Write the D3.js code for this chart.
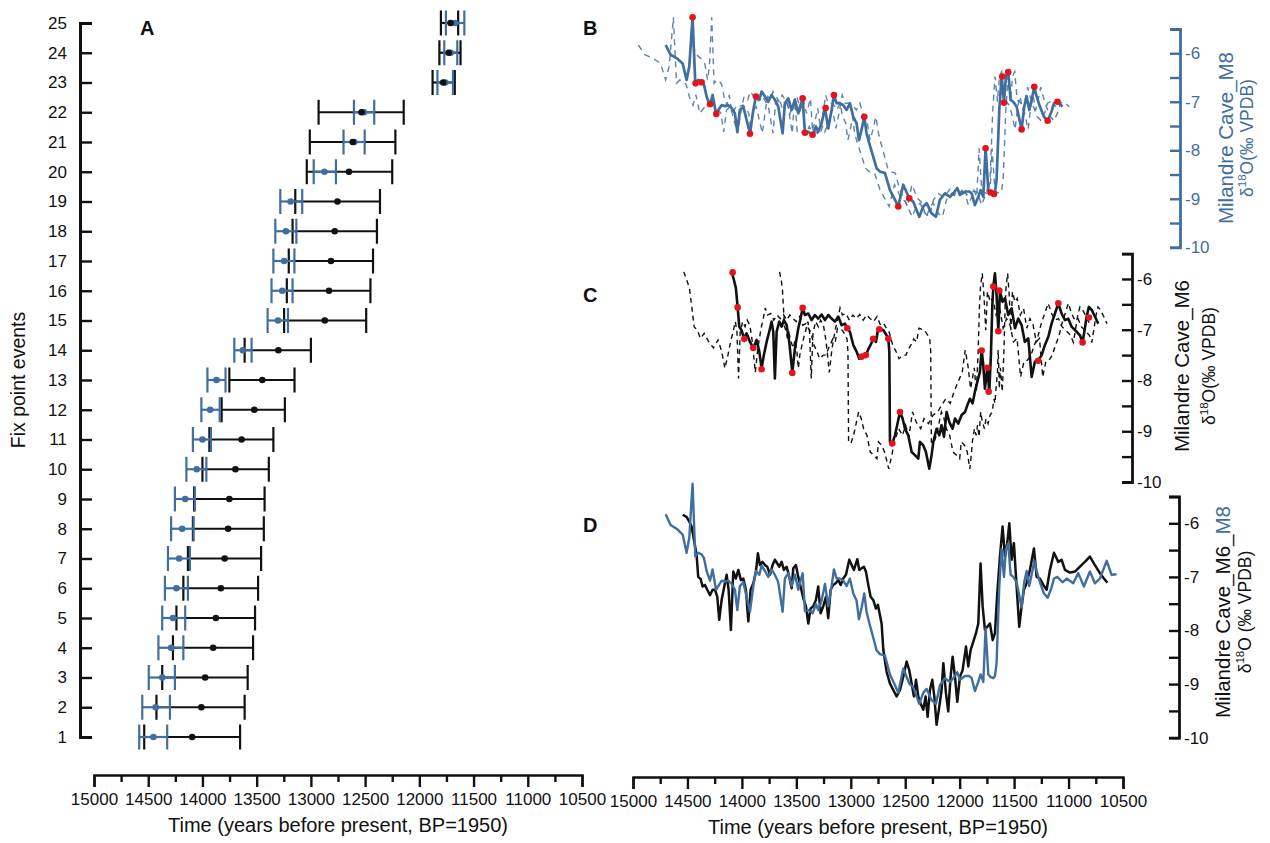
<!DOCTYPE html>
<html>
<head>
<meta charset="utf-8">
<script src="https://cdn.jsdelivr.net/npm/d3@7"></script>
<style>
  body { margin: 0; background: #fff; }
  svg { display: block; font-family: "Liberation Sans", Arial, sans-serif; }
</style>
</head>
<body>
<svg id="chart" width="1270" height="843"></svg>
<script>
/* ---------- data ---------- */
const EVENTS = [1,2,3,4,5,6,7,8,9,10,11,12,13,14,15,16,17,18,19,20,21,22,23,24,25];

// fix point ages (years BP), M6 = black, M8 = blue
const M6_FIX_AGE   = [14095,14010,13975,13901,13876,13830,13795,13763,13752,13696,13639,13522,13448,13300,12872,12833,12815,12780,12755,12649,12614,12533,11780,11730,11712];
const M6_FIX_OLD   = [14537,14424,14371,14272,14240,14176,14134,14088,14077,14000,13936,13823,13752,13611,13247,13222,13204,13169,13144,13038,13010,12929,11878,11815,11801];
const M6_FIX_YOUNG = [13653,13611,13583,13533,13515,13487,13459,13434,13427,13388,13346,13240,13151,13000,12490,12451,12427,12391,12363,12250,12221,12144,11673,11620,11642];
const M8_FIX_AGE   = [14452,14431,14371,14289,14272,14240,14215,14187,14159,14053,14000,13929,13870,13628,13303,13264,13247,13230,13187,12875,12600,12510,11760,11710,11670];
const M8_FIX_OLD   = [14583,14555,14495,14406,14371,14346,14318,14289,14254,14148,14088,14010,13954,13706,13399,13363,13346,13328,13282,12974,12699,12603,11833,11770,11755];
const M8_FIX_YOUNG = [14325,14300,14254,14176,14159,14134,14116,14081,14070,13964,13922,13841,13787,13547,13211,13169,13152,13134,13080,12769,12504,12416,11690,11650,11585];

// Milandre M8 d18O  [year BP, permil]
const M8 = [
  [14700,-5.83],[14655,-6.03],[14600,-6.10],[14544,-6.21],[14508,-6.55],[14483,-6.27],[14453,-5.26],[14428,-6.62],
  [14401,-6.55],[14370,-6.58],[14348,-6.65],[14324,-6.89],[14293,-7.07],[14269,-6.86],[14238,-7.24],[14217,-7.17],
  [14186,-7.07],[14156,-7.09],[14125,-7.07],[14094,-7.13],[14064,-7.24],[14042,-7.62],[14018,-7.17],[13987,-7.10],
  [13957,-7.37],[13926,-7.65],[13895,-7.17],[13871,-6.89],[13840,-6.96],[13819,-6.79],[13788,-6.89],[13758,-7.00],
  [13727,-6.86],[13697,-6.96],[13666,-7.10],[13626,-7.65],[13605,-7.03],[13574,-6.93],[13543,-7.17],[13513,-6.96],
  [13482,-7.24],[13461,-7.07],[13442,-6.93],[13421,-7.64],[13390,-7.62],[13351,-7.68],[13320,-7.51],[13299,-7.62],
  [13268,-7.44],[13237,-7.13],[13207,-7.55],[13176,-7.17],[13155,-6.86],[13130,-7.03],[13100,-7.03],[13069,-7.07],
  [13038,-7.17],[13008,-7.03],[12977,-7.31],[12947,-7.44],[12925,-7.79],[12901,-7.58],[12876,-7.31],[12855,-7.65],
  [12830,-7.86],[12794,-8.13],[12763,-8.37],[12732,-8.44],[12686,-8.47],[12640,-8.82],[12594,-9.02],[12564,-9.16],
  [12518,-8.71],[12463,-8.99],[12426,-9.06],[12371,-9.37],[12334,-9.16],[12303,-9.09],[12258,-9.30],[12218,-9.37],
  [12181,-9.02],[12135,-8.89],[12089,-8.96],[12059,-8.89],[12022,-8.78],[11997,-8.92],[11951,-8.85],[11912,-8.85],
  [11890,-8.89],[11860,-9.13],[11829,-8.96],[11808,-8.82],[11783,-8.96],[11762,-7.96],[11737,-8.82],[11716,-8.87],
  [11691,-8.89],[11676,-8.85],[11661,-8.61],[11636,-7.17],[11615,-6.48],[11593,-7.00],[11575,-6.48],[11554,-6.38],
  [11532,-6.96],[11508,-7.00],[11477,-7.10],[11431,-7.57],[11407,-7.10],[11385,-6.89],[11361,-7.17],[11339,-6.96],
  [11315,-6.70],[11293,-6.89],[11263,-7.10],[11226,-7.31],[11192,-7.39],[11156,-7.20],[11134,-7.03],[11104,-7.00],
  [11055,-7.10]
];
// later part of M8 only shown in panel D
const M8_TAIL = [
  [11018,-7.03],[10957,-7.12],[10911,-6.93],[10859,-7.18],[10804,-6.90],[10758,-7.12],[10712,-7.03],[10650,-6.70],
  [10605,-6.96],[10559,-6.95]
];
const M8_TIE = [
  [14453,-5.26],[14425,-6.62],[14370,-6.60],[14293,-7.05],[14235,-7.25],[13926,-7.66],[13871,-6.89],[13442,-6.93],
  [13421,-7.64],[13351,-7.68],[13231,-7.13],[13155,-6.86],[12876,-7.31],[12564,-9.16],[12463,-8.99],[11762,-7.96],
  [11716,-8.87],[11685,-8.90],[11609,-6.48],[11554,-6.39],[11593,-7.02],[11431,-7.57],[11315,-6.69],[11192,-7.39],
  [11101,-7.00]
];
// age uncertainty of the M8 chronology (years), dashed lines
const M8_AGE_ERR = [[14700,250],[14450,175],[14000,120],[13300,60],[12850,110],[12300,60],[11050,60]];

// Milandre M6 d18O on its own chronology
const M6 = [
  [14094,-5.86],[14073,-6.02],[14055,-6.18],[14039,-6.56],[14024,-6.94],[14003,-7.01],[13981,-7.17],[13957,-7.07],
  [13926,-7.24],[13895,-7.36],[13865,-7.20],[13840,-7.43],[13819,-7.76],[13798,-7.50],[13773,-7.24],[13749,-7.04],
  [13727,-6.84],[13712,-7.04],[13697,-7.96],[13681,-7.04],[13657,-6.84],[13635,-6.94],[13614,-6.81],[13589,-6.91],
  [13565,-7.24],[13537,-7.84],[13513,-7.37],[13482,-6.97],[13461,-6.78],[13442,-6.57],[13421,-6.71],[13390,-6.68],
  [13360,-6.81],[13329,-6.71],[13299,-6.78],[13268,-6.70],[13237,-6.81],[13207,-6.71],[13176,-6.78],[13146,-6.84],
  [13115,-6.74],[13084,-6.91],[13054,-6.88],[13032,-6.97],[13008,-7.04],[12977,-7.30],[12947,-7.43],[12922,-7.57],
  [12901,-7.53],[12885,-7.50],[12861,-7.50],[12836,-7.37],[12818,-7.30],[12794,-7.18],[12769,-7.24],[12748,-6.97],
  [12701,-7.01],[12671,-7.11],[12655,-7.18],[12646,-7.43],[12640,-9.21],[12619,-9.24],[12594,-9.08],[12564,-8.78],
  [12548,-8.62],[12524,-8.75],[12502,-8.95],[12472,-9.08],[12441,-9.41],[12411,-9.47],[12380,-9.54],[12365,-9.21],
  [12334,-9.28],[12310,-9.41],[12279,-9.74],[12258,-9.47],[12242,-9.21],[12212,-8.95],[12187,-9.08],[12166,-8.88],
  [12144,-9.11],[12120,-8.62],[12095,-8.82],[12065,-8.95],[12043,-8.75],[12013,-8.85],[11982,-8.68],[11951,-8.62],
  [11930,-8.49],[11906,-8.36],[11881,-8.45],[11860,-8.22],[11838,-8.03],[11814,-7.83],[11798,-7.40],[11783,-7.70],
  [11768,-8.16],[11746,-7.75],[11728,-8.22],[11713,-7.50],[11700,-6.51],[11691,-6.15],[11676,-5.89],[11661,-6.32],
  [11645,-7.01],[11630,-6.25],[11606,-6.45],[11584,-6.38],[11554,-6.71],[11523,-6.58],[11492,-6.97],[11462,-6.78],
  [11431,-6.91],[11401,-7.24],[11370,-7.17],[11339,-7.93],[11309,-7.63],[11278,-7.60],[11247,-7.50],[11217,-7.30],
  [11186,-7.14],[11156,-6.88],[11125,-6.68],[11094,-6.48],[11064,-6.68],[11033,-6.81],[11003,-6.78],[10972,-6.94],
  [10926,-7.04],[10895,-7.11],[10871,-7.25],[10850,-6.97],[10834,-6.74],[10813,-6.55],[10788,-6.61],[10758,-6.74],
  [10727,-6.88]
];
const M6_TIE = [
  [14085,-5.87],[14039,-6.56],[13978,-7.18],[13895,-7.36],[13819,-7.78],[13537,-7.85],[13442,-6.57],[13032,-6.97],
  [12901,-7.53],[12861,-7.50],[12794,-7.18],[12739,-6.99],[12655,-7.18],[12619,-9.24],[12548,-8.62],[11798,-7.41],
  [11746,-7.75],[11734,-8.22],[11691,-6.15],[11636,-6.23],[11645,-7.03],[11278,-7.61],[11094,-6.48],[10871,-7.25],
  [10813,-6.76]
];
const M6_AGE_ERR = [[14090,440],[13800,330],[13000,360],[12650,380],[12300,380],[11950,250],[11750,120],[11300,100],[10730,80]];

// M6 on the M8-tuned chronology (panel D)
const M6_TUNED = [
  [14544,-5.84],[14508,-5.88],[14483,-5.97],[14462,-6.06],[14440,-6.31],[14416,-6.59],[14401,-7.00],[14379,-7.04],
  [14361,-7.18],[14339,-7.15],[14318,-7.24],[14293,-7.34],[14269,-7.24],[14247,-7.24],[14226,-7.37],[14208,-7.80],
  [14186,-7.43],[14165,-7.21],[14140,-6.96],[14122,-7.24],[14101,-7.99],[14079,-6.90],[14055,-7.03],[14033,-6.87],
  [14009,-7.06],[13987,-7.03],[13963,-7.24],[13941,-7.83],[13920,-7.24],[13895,-7.12],[13871,-6.90],[13853,-6.56],
  [13834,-6.78],[13810,-6.72],[13788,-6.78],[13767,-6.81],[13742,-6.96],[13718,-6.78],[13697,-6.68],[13675,-6.75],
  [13657,-6.81],[13635,-6.72],[13614,-6.87],[13589,-6.81],[13565,-7.00],[13543,-7.21],[13528,-6.84],[13504,-6.78],
  [13482,-7.00],[13461,-7.18],[13436,-7.40],[13412,-7.55],[13390,-7.87],[13369,-7.59],[13345,-7.55],[13320,-7.43],
  [13299,-7.18],[13277,-7.68],[13253,-7.55],[13228,-7.37],[13207,-7.77],[13185,-7.24],[13161,-7.15],[13139,-7.12],
  [13115,-7.06],[13093,-7.15],[13069,-7.03],[13044,-6.96],[13014,-6.68],[12992,-6.78],[12971,-6.87],[12940,-6.67],
  [12922,-6.87],[12901,-6.84],[12879,-6.81],[12861,-6.90],[12839,-7.15],[12818,-7.37],[12794,-7.43],[12769,-7.59],
  [12751,-7.52],[12717,-7.87],[12701,-8.36],[12671,-8.77],[12640,-8.99],[12610,-9.11],[12579,-9.23],[12548,-9.11],
  [12518,-8.86],[12487,-8.58],[12463,-8.74],[12441,-8.99],[12420,-9.23],[12401,-8.92],[12380,-9.23],[12359,-9.36],
  [12334,-9.48],[12313,-9.23],[12294,-9.61],[12273,-9.11],[12251,-8.92],[12233,-9.23],[12212,-9.76],[12187,-9.42],
  [12166,-9.11],[12150,-8.61],[12126,-9.17],[12105,-9.51],[12083,-8.86],[12065,-8.49],[12043,-8.86],[12022,-9.33],
  [11997,-8.86],[11973,-8.74],[11942,-8.30],[11921,-8.67],[11899,-8.36],[11875,-8.21],[11850,-8.05],[11829,-7.87],
  [11808,-6.75],[11789,-7.55],[11768,-7.99],[11746,-7.93],[11722,-7.87],[11697,-8.18],[11676,-8.05],[11655,-7.31],
  [11630,-6.62],[11606,-6.06],[11584,-6.62],[11563,-6.37],[11544,-6.00],[11523,-6.68],[11502,-6.37],[11477,-7.18],
  [11453,-7.93],[11431,-7.55],[11410,-7.24],[11385,-7.12],[11355,-6.87],[11318,-6.47],[11293,-7.00],[11263,-7.03],
  [11232,-7.15],[11201,-7.24],[11171,-6.87],[11134,-6.55],[11094,-6.72],[11064,-6.68],[11033,-6.87],[10987,-6.92],
  [10941,-6.90],[10895,-6.81],[10850,-6.72],[10804,-6.62],[10758,-6.78],[10712,-6.93],[10675,-7.03],[10644,-7.11]
];

// ticks
const X_TICKS = [15000,14500,14000,13500,13000,12500,12000,11500,11000,10500];
const X_MINOR = [14750,14250,13750,13250,12750,12250,11750,11250,10750];
const ISO_TICKS = [-5.5,-6,-6.5,-7,-7.5,-8,-8.5,-9,-9.5,-10];

const BLUE = "#3f6e9f", RED = "#e3141c", INK = "#111";
const FONT = "Liberation Sans, Arial, sans-serif";
const TICK_FS = 17;

/* ---------- scales ---------- */
const svg = d3.select("#chart");

const xA = d3.scaleLinear().domain([15000, 10500]).range([94, 582]);
const yA = d3.scaleLinear().domain([1, 25]).range([737, 23]);
const xR = d3.scaleLinear().domain([15000, 10500]).range([633, 1123]);
const yB = d3.scaleLinear().domain([-5.5, -10]).range([29, 247.3]);
const yC = d3.scaleLinear().domain([-5.5, -10]).range([253.6, 482]);
const yD = d3.scaleLinear().domain([-5.5, -10]).range([496.5, 737.7]);

/* ---------- helpers ---------- */
function styleAxis(g, fs, color) {
  g.attr("font-family", FONT).attr("font-size", fs);
  g.selectAll("path, line").attr("stroke", color).attr("stroke-width", 2.4);
  g.selectAll("text").attr("fill", color);
}

function timeAxis(x, y, title) {
  const g = svg.append("g").attr("transform", `translate(0,${y})`);
  const minor = g.append("g").call(d3.axisBottom(x).tickValues(X_MINOR).tickSize(7).tickFormat(""));
  minor.select(".domain").remove();
  styleAxis(minor, TICK_FS, INK);
  const major = g.append("g").call(
    d3.axisBottom(x).tickValues(X_TICKS).tickSize(12).tickSizeOuter(12).tickPadding(6).tickFormat(d => d)
  );
  styleAxis(major, TICK_FS, INK);
  const [r0, r1] = x.range();
  g.append("text")
    .attr("x", (r0 + r1) / 2).attr("y", 57)
    .attr("text-anchor", "middle")
    .attr("font-family", FONT).attr("font-size", 20).attr("fill", INK)
    .text(title);
}

function isoAxis(y, xPos, color) {
  const g = svg.append("g").attr("transform", `translate(${xPos},0)`).call(
    d3.axisRight(y).tickValues(ISO_TICKS).tickSizeInner(-10).tickSizeOuter(-10).tickPadding(5)
      .tickFormat(d => Number.isInteger(d) ? String(d) : "")
  );
  styleAxis(g, TICK_FS, color);
  g.select(".domain").attr("stroke-width", 2.8);
}

function isoTitle(xLine1, xLine2, yMid, color, label, extra) {
  const t1 = svg.append("text")
    .attr("transform", `translate(${xLine1},${yMid}) rotate(-90)`)
    .attr("text-anchor", "middle").attr("font-family", FONT).attr("font-size", 20.5)
    .attr("fill", color).text(label);
  if (extra) t1.append("tspan").attr("fill", BLUE).text(extra);
  const t2 = svg.append("text")
    .attr("transform", `translate(${xLine2},${yMid}) rotate(-90)`)
    .attr("text-anchor", "middle").attr("font-family", FONT).attr("font-size", 17.5)
    .attr("fill", color);
  t2.append("tspan").text("δ");
  t2.append("tspan").attr("dy", -7).attr("font-size", 11.5).text("18");
  t2.append("tspan").attr("dy", 7).text("O" + (extra ? " " : "") + "(‰ VPDB)");
}

function panelLetter(x, y, s) {
  svg.append("text").attr("x", x).attr("y", y)
    .attr("font-family", FONT).attr("font-size", 20).attr("font-weight", "bold")
    .attr("fill", INK).text(s);
}

// shifted copy of a record by its age uncertainty
function shifted(series, errTable, sign) {
  const err = d3.scaleLinear()
    .domain(errTable.map(d => d[0])).range(errTable.map(d => d[1])).clamp(true);
  return series.map(d => [d[0] + sign * err(d[0]), d[1]]);
}

/* ---------- panel A ---------- */
const gAy = svg.append("g").attr("transform", "translate(80,0)").call(
  d3.axisLeft(yA).tickValues(EVENTS).tickFormat(d => d).tickSizeInner(-12).tickSizeOuter(-12).tickPadding(13)
);
styleAxis(gAy, TICK_FS, INK);
gAy.select(".domain").attr("stroke-width", 3);

svg.append("text")
  .attr("transform", `translate(25,${yA(13)}) rotate(-90)`)
  .attr("text-anchor", "middle").attr("font-family", FONT).attr("font-size", 19.5)
  .attr("fill", INK).text("Fix point events");

timeAxis(xA, 775, "Time (years before present, BP=1950)");
panelLetter(140, 35, "A");

function errBars(cls, olds, youngs, color) {
  const g = svg.append("g").attr("class", cls).attr("stroke", color).attr("stroke-width", 2.2);
  EVENTS.forEach((ev, i) => {
    const y = yA(ev), x0 = xA(olds[i]), x1 = xA(youngs[i]);
    g.append("line").attr("x1", x0).attr("x2", x1).attr("y1", y).attr("y2", y);
    g.append("line").attr("x1", x0).attr("x2", x0).attr("y1", y - 12.5).attr("y2", y + 12.5);
    g.append("line").attr("x1", x1).attr("x2", x1).attr("y1", y - 12.5).attr("y2", y + 12.5);
  });
}
errBars("m6-bars", M6_FIX_OLD, M6_FIX_YOUNG, INK);
errBars("m8-bars", M8_FIX_OLD, M8_FIX_YOUNG, BLUE);

svg.append("g").selectAll("circle").data(EVENTS).join("circle")
  .attr("cx", (d, i) => xA(M8_FIX_AGE[i])).attr("cy", d => yA(d)).attr("r", 3.3).attr("fill", BLUE);
svg.append("g").selectAll("circle").data(EVENTS).join("circle")
  .attr("cx", (d, i) => xA(M6_FIX_AGE[i])).attr("cy", d => yA(d)).attr("r", 3.3).attr("fill", INK);

/* ---------- panels B, C, D ---------- */
const lineFor = y => d3.line().x(d => xR(d[0])).y(d => y(d[1]));

// B: M8
const lB = lineFor(yB);
[-1, 1].forEach(s => {
  svg.append("path").datum(shifted(M8, M8_AGE_ERR, s))
    .attr("d", lB).attr("fill", "none").attr("stroke", BLUE).attr("stroke-width", 1.4)
    .attr("stroke-dasharray", "6,5").attr("opacity", 0.85);
});
svg.append("path").datum(M8).attr("d", lB)
  .attr("fill", "none").attr("stroke", BLUE).attr("stroke-width", 2.7).attr("stroke-linejoin", "round");
svg.append("g").selectAll("circle").data(M8_TIE).join("circle")
  .attr("cx", d => xR(d[0])).attr("cy", d => yB(d[1])).attr("r", 3.3).attr("fill", RED);
isoAxis(yB, 1180, BLUE);
isoTitle(1233, 1253, 138, BLUE, "Milandre Cave_M8");
panelLetter(583, 35, "B");

// C: M6
const lC = lineFor(yC);
[-1, 1].forEach(s => {
  svg.append("path").datum(shifted(M6, M6_AGE_ERR, s))
    .attr("d", lC).attr("fill", "none").attr("stroke", INK).attr("stroke-width", 1.4)
    .attr("stroke-dasharray", "5,4");
});
svg.append("path").datum(M6).attr("d", lC)
  .attr("fill", "none").attr("stroke", INK).attr("stroke-width", 2.6).attr("stroke-linejoin", "round");
svg.append("g").selectAll("circle").data(M6_TIE).join("circle")
  .attr("cx", d => xR(d[0])).attr("cy", d => yC(d[1])).attr("r", 3.3).attr("fill", RED);
isoAxis(yC, 1132, INK);
isoTitle(1189, 1215, 366, INK, "Milandre Cave_M6");
panelLetter(583, 302, "C");

// D: both records on the M8 timescale
const lD = lineFor(yD);
svg.append("path").datum(M6_TUNED).attr("d", lD)
  .attr("fill", "none").attr("stroke", INK).attr("stroke-width", 2.5).attr("stroke-linejoin", "round");
svg.append("path").datum(M8.concat(M8_TAIL)).attr("d", lD)
  .attr("fill", "none").attr("stroke", BLUE).attr("stroke-width", 2.4).attr("stroke-linejoin", "round");
isoAxis(yD, 1179, INK);
isoTitle(1230, 1251, 612, INK, "Milandre Cave_M6_", "M8");
panelLetter(583, 532, "D");

timeAxis(xR, 777, "Time (years before present, BP=1950)");
</script>
</body>
</html>
